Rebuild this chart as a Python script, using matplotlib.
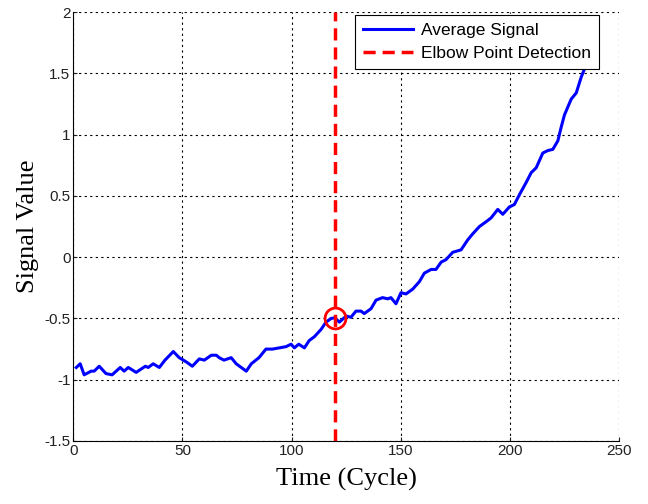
import matplotlib
matplotlib.use("Agg")
import matplotlib.pyplot as plt

# datos
tiempo = [1.4, 3.2, 5, 8.2, 9.6, 11.9, 15, 17.8, 21.5, 23.3, 25.2, 28.8, 33, 34.3, 36.6,
          39.4, 42, 45.8, 48.5, 50.4, 52.2, 54.5, 57.7, 60, 63.2, 65.5, 66.8, 69, 72.3,
          74.6, 76.9, 79.2, 81.5, 85, 88.2, 91.2, 94.3, 97.4, 99.7, 101.2, 103.2, 105.8,
          108, 110.3, 113.4, 115.7, 118, 119.8, 121.8, 124.9, 127.1, 129.4, 131.7, 133.2,
          136.3, 138.6, 141.6, 143.9, 145.4, 147.7, 150, 152.3, 155.4, 158.4, 160.7,
          163.8, 166, 168.4, 170.6, 173.7, 177.5, 180.5, 182.8, 185.9, 189, 191.2, 194.3,
          196.6, 199.6, 201.9, 204.2, 207.3, 209.6, 211.9, 214.9, 217.2, 219.5, 221.8,
          223.3, 224.8, 227.9, 230.2, 232.5, 234.5]
senal = [-0.90, -0.87, -0.96, -0.93, -0.93, -0.89, -0.95, -0.96, -0.90, -0.93, -0.90,
         -0.94, -0.89, -0.90, -0.87, -0.90, -0.84, -0.77, -0.82, -0.84, -0.86, -0.89,
         -0.83, -0.84, -0.80, -0.80, -0.82, -0.84, -0.82, -0.87, -0.90, -0.93, -0.87,
         -0.82, -0.75, -0.75, -0.74, -0.73, -0.71, -0.74, -0.71, -0.74, -0.68, -0.65,
         -0.59, -0.53, -0.50, -0.495, -0.53, -0.48, -0.49, -0.44, -0.44, -0.46, -0.42,
         -0.35, -0.33, -0.34, -0.33, -0.38, -0.29, -0.30, -0.26, -0.20, -0.13, -0.10,
         -0.10, -0.04, -0.02, 0.04, 0.06, 0.14, 0.19, 0.25, 0.29, 0.32, 0.39, 0.35,
         0.41, 0.43, 0.51, 0.61, 0.69, 0.73, 0.85, 0.87, 0.88, 0.95, 1.06, 1.16, 1.29,
         1.34, 1.47, 1.56]
codo_x = 120
codo_y = -0.5

plt.rcParams['font.family'] = ['Liberation Sans', 'DejaVu Sans']

fig = plt.figure(figsize=(6.48, 5.04), dpi=100)
ax = fig.add_axes([0.113, 0.125, 0.843, 0.851])

ax.plot(tiempo, senal, color='blue', linewidth=2.2, label='Average Signal')
ax.axvline(codo_x, color='red', linestyle=(0, (3.5, 2)), linewidth=2.5, label='Elbow Point Detection')
ax.plot(codo_x, codo_y, 'o', markersize=15, markerfacecolor='none', markeredgecolor='red', markeredgewidth=2)

ax.set_xlim(0, 250)
ax.set_ylim(-1.5, 2)
ax.set_xticks([0, 50, 100, 150, 200, 250])
ax.set_yticks([-1.5, -1, -0.5, 0, 0.5, 1, 1.5, 2])
ax.set_yticklabels(['-1.5', '-1', '-0.5', '0', '0.5', '1', '1.5', '2'])
ax.tick_params(direction='in', labelsize=11, length=3, pad=2, colors='#222222')
ax.grid(True, color='black', linestyle=(0, (2, 3)), linewidth=0.8)
ax.spines['top'].set_visible(False)
ax.spines['right'].set_visible(False)

ax.set_xlabel('Time (Cycle)', family='Liberation Serif', fontsize=19, labelpad=7)
ax.set_ylabel('Signal Value', family='Liberation Serif', fontsize=19, labelpad=4)

leg = ax.legend(loc='upper right', bbox_to_anchor=(599 / 648, 1 - 15 / 504),
                bbox_transform=fig.transFigure, fontsize=12.5, fancybox=False, framealpha=1,
                edgecolor='black', borderaxespad=0, handlelength=2.9, handletextpad=0.45,
                borderpad=0.45, labelspacing=0.45)
leg.get_frame().set_linewidth(0.8)

plt.savefig('out.png', dpi=100)
